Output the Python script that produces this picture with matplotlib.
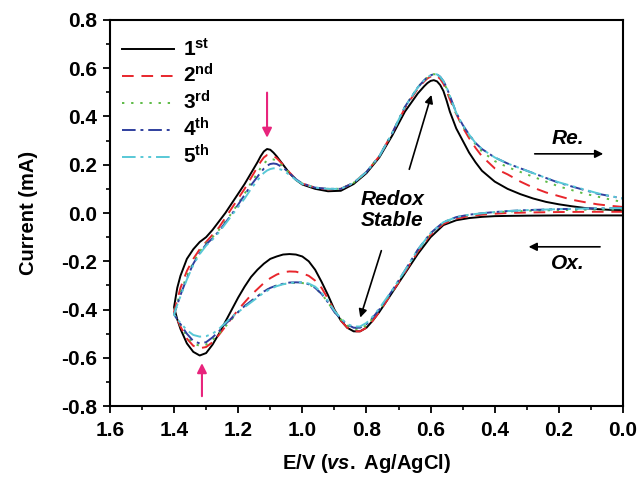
import matplotlib
matplotlib.use('Agg')
import matplotlib.pyplot as plt
import numpy as np

plt.rcParams['font.family'] = ['Liberation Sans', 'DejaVu Sans']
plt.rcParams['font.weight'] = 'bold'
plt.rcParams['mathtext.fontset'] = 'custom'
plt.rcParams['mathtext.rm'] = 'Liberation Sans:bold'
plt.rcParams['mathtext.bf'] = 'Liberation Sans:bold'
plt.rcParams['mathtext.it'] = 'Liberation Sans:bold:italic'

# 电位网格：正扫(1.4 -> 0.0，上支) 与 反扫(0.0 -> 1.4，下支)
E_up = [1.40, 1.39, 1.38, 1.36, 1.34, 1.32, 1.30, 1.28, 1.26, 1.24,
        1.22, 1.20, 1.18, 1.16, 1.14, 1.13, 1.12, 1.11, 1.10, 1.09,
        1.08, 1.06, 1.04, 1.02, 1.00, 0.96, 0.92, 0.88, 0.84, 0.80,
        0.76, 0.72, 0.68, 0.64, 0.62, 0.61, 0.60, 0.59, 0.58, 0.57,
        0.56, 0.55, 0.54, 0.52, 0.50, 0.48, 0.46, 0.44, 0.40, 0.36,
        0.32, 0.28, 0.24, 0.20, 0.16, 0.12, 0.08, 0.04, 0.00]
E_down = [0.00, 0.10, 0.20, 0.30, 0.36, 0.40, 0.44, 0.48, 0.52, 0.56, 0.60, 0.64,
          0.68, 0.72, 0.76, 0.78, 0.80, 0.82, 0.84, 0.86, 0.88, 0.90, 0.92, 0.94,
          0.96, 0.98, 1.00, 1.02, 1.04, 1.06, 1.08, 1.10, 1.12, 1.14, 1.16, 1.18,
          1.20, 1.22, 1.24, 1.26, 1.28, 1.30, 1.32, 1.34, 1.36, 1.38, 1.39, 1.40]

# 各圈电流 (mA)，上支
I_up_1 = [-0.39, -0.31, -0.26, -0.19, -0.15, -0.12, -0.10, -0.07, -0.035, 0.00,
          0.04, 0.08, 0.12, 0.165, 0.21, 0.235, 0.255, 0.265, 0.262, 0.25,
          0.235, 0.20, 0.165, 0.137, 0.118, 0.10, 0.09, 0.092, 0.12, 0.165,
          0.23, 0.32, 0.42, 0.495, 0.525, 0.538, 0.547, 0.55, 0.545, 0.53,
          0.505, 0.465, 0.42, 0.35, 0.30, 0.25, 0.21, 0.175, 0.13, 0.10,
          0.078, 0.06, 0.046, 0.036, 0.028, 0.021, 0.016, 0.013, 0.012]
I_up_2 = [-0.41, -0.36, -0.31, -0.24, -0.19, -0.15, -0.12, -0.09, -0.06, -0.02,
          0.02, 0.06, 0.10, 0.145, 0.19, 0.212, 0.23, 0.24, 0.242, 0.237,
          0.227, 0.20, 0.168, 0.14, 0.122, 0.105, 0.098, 0.10, 0.125, 0.17,
          0.235, 0.33, 0.435, 0.515, 0.545, 0.557, 0.565, 0.57, 0.567, 0.555,
          0.535, 0.505, 0.47, 0.41, 0.355, 0.31, 0.27, 0.235, 0.185, 0.16,
          0.13, 0.105, 0.085, 0.07, 0.055, 0.045, 0.036, 0.03, 0.025]
I_up_3 = [-0.42, -0.37, -0.33, -0.26, -0.205, -0.16, -0.125, -0.10, -0.07, -0.035,
          0.00, 0.04, 0.08, 0.125, 0.165, 0.187, 0.205, 0.217, 0.223, 0.222,
          0.215, 0.193, 0.165, 0.14, 0.122, 0.105, 0.10, 0.10, 0.125, 0.17,
          0.235, 0.33, 0.44, 0.52, 0.55, 0.562, 0.57, 0.575, 0.573, 0.562,
          0.543, 0.515, 0.48, 0.41, 0.36, 0.32, 0.285, 0.255, 0.215, 0.19,
          0.17, 0.15, 0.13, 0.11, 0.095, 0.08, 0.068, 0.056, 0.045]
I_up_4 = [-0.42, -0.38, -0.34, -0.27, -0.21, -0.165, -0.13, -0.105, -0.075, -0.04,
          -0.005, 0.035, 0.075, 0.115, 0.15, 0.168, 0.184, 0.196, 0.203, 0.205,
          0.203, 0.188, 0.165, 0.14, 0.122, 0.105, 0.10, 0.10, 0.125, 0.17,
          0.235, 0.33, 0.44, 0.52, 0.55, 0.562, 0.57, 0.575, 0.574, 0.564,
          0.546, 0.52, 0.485, 0.415, 0.365, 0.325, 0.29, 0.265, 0.23, 0.205,
          0.185, 0.165, 0.145, 0.125, 0.11, 0.095, 0.08, 0.07, 0.06]
I_up_5 = [-0.42, -0.38, -0.345, -0.275, -0.215, -0.17, -0.135, -0.11, -0.08, -0.045,
          -0.01, 0.025, 0.06, 0.10, 0.135, 0.152, 0.166, 0.176, 0.182, 0.185,
          0.185, 0.177, 0.158, 0.137, 0.12, 0.105, 0.10, 0.10, 0.125, 0.17,
          0.235, 0.33, 0.44, 0.52, 0.55, 0.562, 0.57, 0.575, 0.574, 0.564,
          0.546, 0.52, 0.485, 0.415, 0.365, 0.325, 0.29, 0.265, 0.23, 0.205,
          0.185, 0.165, 0.145, 0.127, 0.112, 0.097, 0.082, 0.07, 0.06]

# 各圈电流 (mA)，下支
I_down_1 = [-0.01, -0.01, -0.01, -0.011, -0.012, -0.013, -0.016, -0.021, -0.03, -0.05, -0.10, -0.17,
            -0.25, -0.33, -0.41, -0.445, -0.475, -0.49, -0.49, -0.475, -0.445, -0.40, -0.34, -0.285,
            -0.235, -0.20, -0.18, -0.172, -0.17, -0.172, -0.18, -0.19, -0.21, -0.235, -0.265, -0.305,
            -0.35, -0.40, -0.45, -0.50, -0.545, -0.58, -0.59, -0.575, -0.54, -0.48, -0.44, -0.39]
I_down_2 = [0.005, 0.005, 0.004, 0.002, 0.0, -0.003, -0.007, -0.013, -0.023, -0.045, -0.09, -0.16,
            -0.245, -0.33, -0.41, -0.445, -0.475, -0.49, -0.49, -0.475, -0.445, -0.405, -0.355, -0.31,
            -0.28, -0.26, -0.25, -0.243, -0.242, -0.245, -0.255, -0.27, -0.29, -0.315, -0.34, -0.37,
            -0.40, -0.435, -0.47, -0.505, -0.535, -0.555, -0.56, -0.55, -0.52, -0.47, -0.44, -0.41]
I_down_3 = [0.015, 0.014, 0.012, 0.009, 0.006, 0.003, -0.002, -0.008, -0.018, -0.04, -0.085, -0.155,
            -0.24, -0.325, -0.40, -0.435, -0.465, -0.48, -0.48, -0.465, -0.44, -0.41, -0.37, -0.335,
            -0.31, -0.295, -0.29, -0.29, -0.29, -0.295, -0.30, -0.31, -0.325, -0.345, -0.365, -0.385,
            -0.41, -0.44, -0.47, -0.50, -0.525, -0.545, -0.55, -0.54, -0.51, -0.465, -0.44, -0.42]
I_down_4 = [0.02, 0.019, 0.016, 0.012, 0.008, 0.004, -0.001, -0.007, -0.017, -0.038, -0.083, -0.152,
            -0.238, -0.322, -0.40, -0.432, -0.46, -0.475, -0.475, -0.462, -0.438, -0.41, -0.37, -0.335,
            -0.31, -0.295, -0.288, -0.287, -0.288, -0.293, -0.30, -0.31, -0.325, -0.345, -0.365, -0.385,
            -0.41, -0.435, -0.46, -0.49, -0.515, -0.535, -0.54, -0.53, -0.50, -0.46, -0.44, -0.42]
I_down_5 = [0.02, 0.019, 0.016, 0.012, 0.008, 0.004, -0.001, -0.007, -0.017, -0.038, -0.083, -0.152,
            -0.238, -0.32, -0.395, -0.428, -0.455, -0.47, -0.47, -0.46, -0.436, -0.405, -0.365, -0.33,
            -0.305, -0.292, -0.287, -0.287, -0.29, -0.295, -0.303, -0.315, -0.33, -0.35, -0.37, -0.39,
            -0.41, -0.43, -0.455, -0.48, -0.5, -0.51, -0.512, -0.505, -0.485, -0.455, -0.44, -0.42]

labels = ['1$^{\\mathrm{st}}$', '2$^{\\mathrm{nd}}$', '3$^{\\mathrm{rd}}$',
          '4$^{\\mathrm{th}}$', '5$^{\\mathrm{th}}$']
colors = ['black', '#e8262c', '#5dbb46', '#2f3f9e', '#58c8d6']
styles = ['-', (0, (6, 4)), (0, (1.2, 3.5)), (0, (7, 2.5, 1.5, 2.5)), (0, (7, 2.5, 1.5, 2.5, 1.5, 2.5))]
I_up = [I_up_1, I_up_2, I_up_3, I_up_4, I_up_5]
I_down = [I_down_1, I_down_2, I_down_3, I_down_4, I_down_5]

fig = plt.figure(figsize=(6.39, 4.83), dpi=100)
ax = fig.add_axes([0.172, 0.159, 0.803, 0.8])

for k in range(5):
    E = list(E_down) + list(E_up[1:])
    I = list(I_down[k]) + list(I_up[k][1:])
    ax.plot(E, I, color=colors[k], linestyle=styles[k], lw=1.4, label=labels[k])

ax.set_xlim(1.6, 0.0)
ax.set_ylim(-0.8, 0.8)
ax.set_xticks(np.arange(0.0, 1.61, 0.2))
ax.set_yticks(np.arange(-0.8, 0.81, 0.2))
ax.set_xticks(np.arange(0.1, 1.6, 0.2), minor=True)
ax.set_yticks(np.arange(-0.7, 0.8, 0.2), minor=True)
fmt = plt.FuncFormatter(lambda v, p: ('%.1f' % v).replace('-0.0', '0.0'))
ax.xaxis.set_major_formatter(fmt)
ax.yaxis.set_major_formatter(fmt)
ax.tick_params(which='major', direction='out', length=5, width=1.3, labelsize=15, pad=4)
ax.tick_params(which='minor', direction='out', length=3, width=1.2)
ax.tick_params(axis='x', which='major', pad=6)
for s in ax.spines.values():
    s.set_linewidth(1.5)

ax.set_xlabel('E/V ($\\mathit{vs.}$ Ag/AgCl)', fontsize=14.5, fontweight='bold', labelpad=8)
ax.set_ylabel('Current (mA)', fontsize=14.5, fontweight='bold', labelpad=17)

ax.legend(loc='upper left', frameon=False, fontsize=15, handlelength=2.5,
          handletextpad=0.4, labelspacing=0.18, borderaxespad=0.2,
          bbox_to_anchor=(0.0, 0.985))

# 粉色箭头
pink = '#e8247c'
ax.annotate('', xy=(1.11, 0.30), xytext=(1.11, 0.51),
            arrowprops=dict(arrowstyle='-|>', color=pink, lw=1.5, mutation_scale=14))
ax.annotate('', xy=(1.313, -0.61), xytext=(1.313, -0.77),
            arrowprops=dict(arrowstyle='-|>', color=pink, lw=1.5, mutation_scale=14))

# Redox Stable
ax.text(0.72, 0.012, 'Redox\nStable', ha='center', va='center', fontsize=15,
        fontweight='bold', style='italic', linespacing=1.15)
ax.annotate('', xy=(0.595, 0.50), xytext=(0.669, 0.17),
            arrowprops=dict(arrowstyle='-|>', color='black', lw=1.2, mutation_scale=12))
ax.annotate('', xy=(0.822, -0.444), xytext=(0.751, -0.145),
            arrowprops=dict(arrowstyle='-|>', color='black', lw=1.2, mutation_scale=12))

# 扫描方向
ax.text(0.173, 0.31, 'Re.', ha='center', va='center', fontsize=15, fontweight='bold', style='italic')
ax.annotate('', xy=(0.053, 0.245), xytext=(0.284, 0.245),
            arrowprops=dict(arrowstyle='-|>', color='black', lw=1.2, mutation_scale=12))
ax.text(0.173, -0.21, 'Ox.', ha='center', va='center', fontsize=15, fontweight='bold', style='italic')
ax.annotate('', xy=(0.303, -0.14), xytext=(0.063, -0.14),
            arrowprops=dict(arrowstyle='-|>', color='black', lw=1.2, mutation_scale=12))

fig.savefig('out.png', dpi=100)
